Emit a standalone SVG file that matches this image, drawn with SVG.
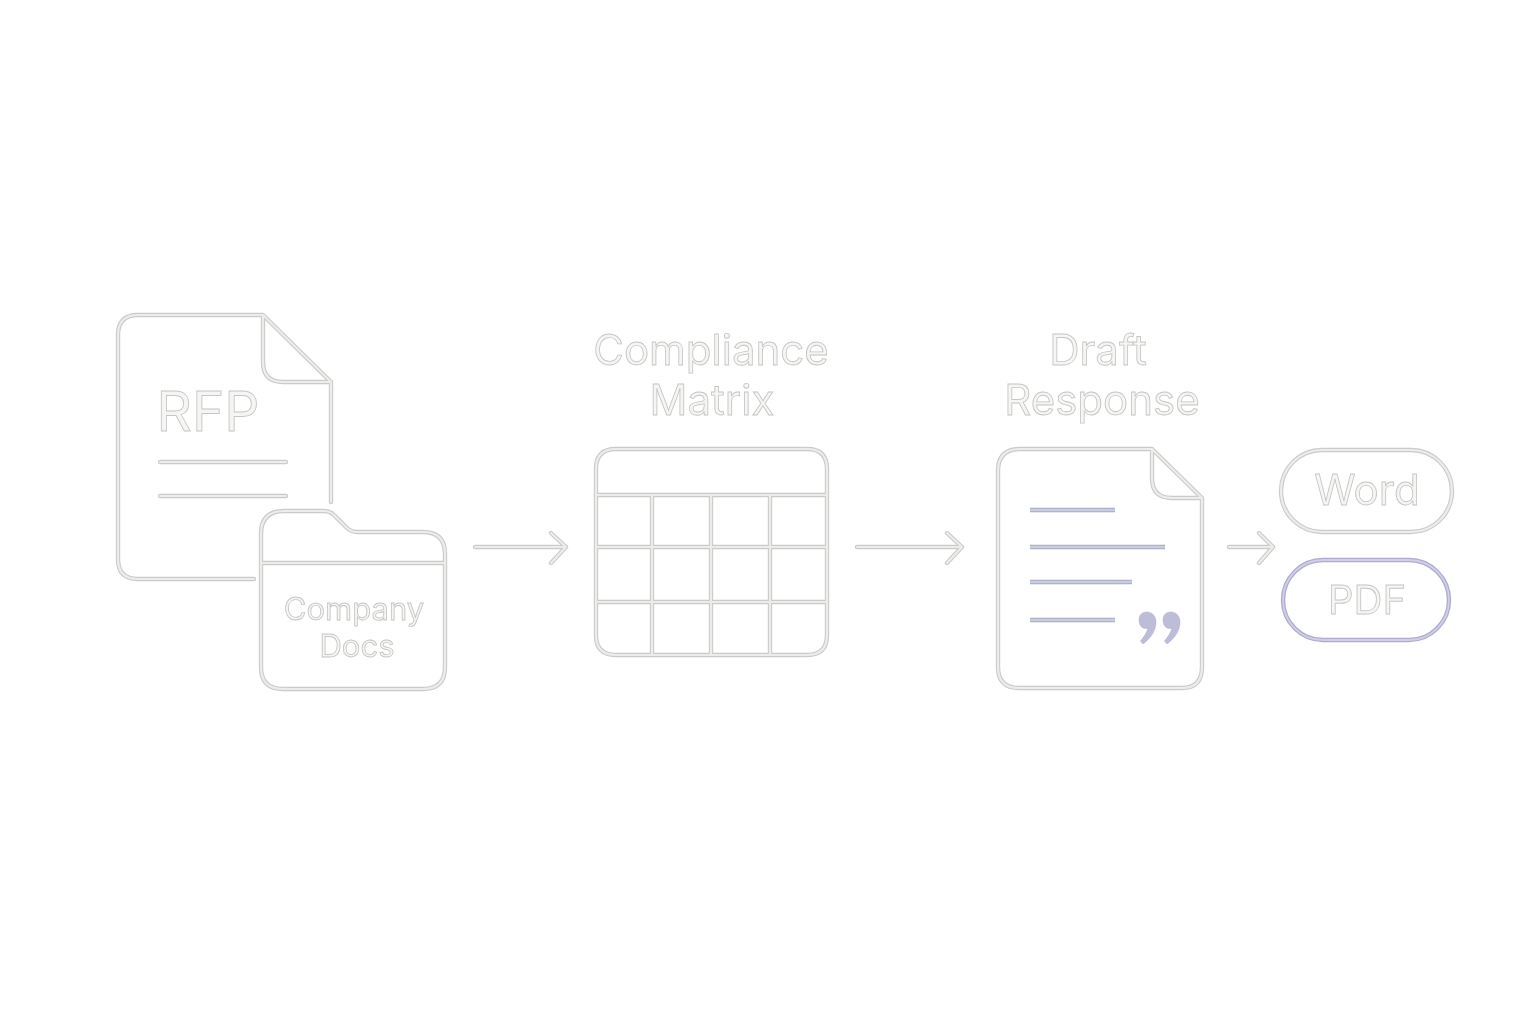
<svg xmlns="http://www.w3.org/2000/svg" width="1536" height="1024" viewBox="0 0 1536 1024">
<style>
.n{filter:url(#soft)}
.o{fill:none;stroke:#cbcbc9;stroke-width:4.4;stroke-linecap:round;stroke-linejoin:round}
.i{fill:none;stroke:#ececea;stroke-width:2.2;stroke-linecap:round;stroke-linejoin:round}
.ob{fill:none;stroke:#a6aac4;stroke-width:4.4;stroke-linecap:butt}
.ib{fill:none;stroke:#c8cde0;stroke-width:2.4;stroke-linecap:butt}
.t{font-family:Inter,"Liberation Sans",sans-serif;fill:#f5f5f3;stroke:#c6c6c4;stroke-width:.85;text-anchor:middle}
</style>
<defs>
<filter id="soft" x="-5%" y="-5%" width="110%" height="110%" color-interpolation-filters="sRGB"><feGaussianBlur stdDeviation="0.3"/></filter>
<path id="p-rfp" d="M254 579H138Q118 579 118 559V335Q118 315 138 315H263L331 382V502M263 315V362Q263 382 283 382H331"/>
<path id="p-rfpl" d="M160 462H286M160 496H286"/>
<path id="p-folder" d="M261 534Q261 511 284 511H324Q330 511 334 515L346 527Q351 532 357 532H423Q445 532 445 554V667Q445 689 423 689H283Q261 689 261 667ZM261 563H445"/>
<path id="p-table" d="M616 449H807Q827 449 827 469V635Q827 655 807 655H616Q596 655 596 635V469Q596 449 616 449ZM596 495H827M596 547H827M596 602H827M652 495V655M711 495V655M770 495V655"/>
<path id="p-a1" d="M475 547H566M551 533L566 547L551 563"/>
<path id="p-a2" d="M857 547H962M947 533L962 547L947 563"/>
<path id="p-a3" d="M1229 547H1273M1259 533L1273 547L1259 563"/>
<path id="p-draft" d="M1020 449H1152L1202 498V667Q1202 688 1182 688H1019Q998 688 998 667V471Q998 449 1020 449ZM1152 449V478Q1152 498 1172 498H1202"/>
<path id="p-dl" d="M1030 510H1115M1030 547H1165M1030 582H1132M1030 620H1115"/>
<rect id="p-word" x="1281" y="450" width="171" height="82" rx="41"/>
<rect id="p-pdf" x="1283" y="560" width="166" height="80" rx="40"/>
</defs>
<rect width="1536" height="1024" fill="#fff"/>
<g id="rfp" class="n">
<use href="#p-rfp" class="o"/><use href="#p-rfp" class="i"/>
<use href="#p-rfpl" class="o"/><use href="#p-rfpl" class="i"/>
<text class="t" x="208" y="431" font-size="55">RFP</text>
</g>
<g id="company-docs" class="n">
<use href="#p-folder" class="o"/><use href="#p-folder" class="i"/>
<text class="t" x="354" y="620" font-size="31">Company</text>
<text class="t" x="357" y="657" font-size="31">Docs</text>
</g>
<g id="compliance-matrix" class="n">
<text class="t" x="711" y="365" font-size="42">Compliance</text>
<text class="t" x="712" y="415" font-size="42">Matrix</text>
<use href="#p-table" class="o"/><use href="#p-table" class="i"/>
</g>
<g id="draft-response" class="n">
<text class="t" x="1098" y="365" font-size="42">Draft</text>
<text class="t" x="1102" y="415" font-size="42">Response</text>
<use href="#p-draft" class="o"/><use href="#p-draft" class="i"/>
<use href="#p-dl" class="ob"/><use href="#p-dl" class="ib"/>
<path d="M1147 612C1152 612 1156 616 1156 622C1156 631 1150 639 1143 644L1140.500 641C1144 637 1147 632 1148 628C1143 630 1139 626 1139 620C1139 615 1142 612 1147 612ZM1171 612C1176 612 1180 616 1180 622C1180 631 1174 639 1167 644L1164.500 641C1168 637 1171 632 1172 628C1167 630 1163 626 1163 620C1163 615 1166 612 1171 612Z" fill="#bdbdd8" stroke="#adadcb" stroke-width=".5"/>
</g>
<g id="word" class="n">
<use href="#p-word" class="o"/><use href="#p-word" class="i"/>
<text class="t" x="1367" y="505" font-size="42">Word</text>
</g>
<g id="pdf" class="n">
<use href="#p-pdf" style="fill:none;stroke:#aeacd2;stroke-width:4.4"/><use href="#p-pdf" style="fill:none;stroke:#d0cfe6;stroke-width:1.8"/>
<text class="t" x="1367" y="614" font-size="40">PDF</text>
</g>
<g id="connectors" class="n">
<use href="#p-a1" class="o"/><use href="#p-a1" class="i"/>
<use href="#p-a2" class="o"/><use href="#p-a2" class="i"/>
<use href="#p-a3" class="o"/><use href="#p-a3" class="i"/>
</g>
</svg>
